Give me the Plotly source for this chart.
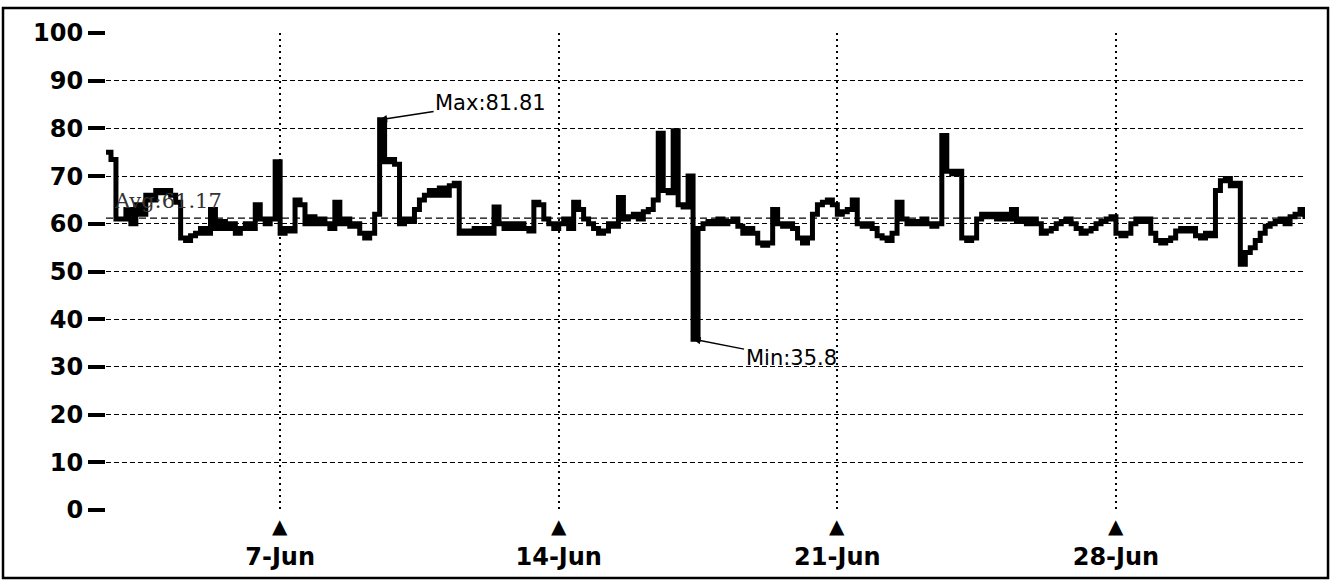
import pandas as pd
import plotly.graph_objects as go

# ---- data (3-hourly readings, starting 2 Jun 15:00) ----
start_time = "2024-06-02 15:00"
jun02 = [75, 73.5, 61]
jun03 = [61, 63, 60, 64, 62, 66, 65, 67]
jun04 = [66.5, 67, 66, 64.5, 57, 56.5, 57.5, 58]
jun05 = [59, 58, 63, 59, 60.5, 59, 60, 58]
jun06 = [59, 60, 59, 64, 61, 60, 61, 73]
jun07 = [58, 59, 58.5, 65, 64, 60, 61.5, 60]
jun08 = [61, 60, 59, 64.5, 60, 61, 59.5, 60]
jun09 = [58, 57, 58, 62, 81.81, 73, 73.5, 72.5]
jun10 = [60, 61, 60.5, 63, 65, 66, 67, 66]
jun11 = [67.5, 66, 68, 68.5, 58, 58.5, 58, 59]
jun12 = [58, 59, 58, 63.5, 60, 59, 60, 59]
jun13 = [60, 59, 58.5, 64.5, 64, 61, 60, 59]
jun14 = [60, 61, 59, 64.5, 63, 61, 60, 59]
jun15 = [58, 58.5, 60, 59.5, 65.5, 61, 61.5, 62]
jun16 = [61, 62.5, 63, 65, 79, 67, 66.5, 79.5]
jun17 = [64, 63.5, 70, 35.8, 59, 60, 60.5, 60]
jun18 = [61, 60, 60.5, 61, 59.5, 58, 59, 58]
jun19 = [56, 55.5, 56, 63, 60, 59.5, 60, 59]
jun20 = [57, 56, 57, 62, 64, 64.5, 65, 64]
jun21 = [62, 62.5, 63, 65, 60, 59.5, 60, 59]
jun22 = [57.5, 57, 56.5, 58, 64.5, 61, 60, 60.5]
jun23 = [60, 61, 60, 59.5, 60, 78.5, 71, 70.5]
jun24 = [71, 57, 56.5, 57, 61, 62, 61.5, 62]
jun25 = [61, 62, 61, 63, 60.5, 61, 60, 61]
jun26 = [60, 58, 58.5, 59, 60, 60.5, 61, 60]
jun27 = [59, 58, 58.5, 59, 60, 60.5, 61, 61.5]
jun28 = [58, 57.5, 58, 60, 61, 60.5, 61, 58]
jun29 = [56.5, 56, 56.5, 57, 58.5, 59, 58.5, 59]
jun30 = [57.5, 57, 58, 57.5, 67, 69, 69.5, 68]
jul01 = [68.5, 51.5, 54, 55, 56.5, 58, 59.5, 60]
jul02 = [60.5, 61, 60, 61.5, 62, 63, 61]

values = (jun02 + jun03 + jun04 + jun05 + jun06 + jun07 + jun08 + jun09 + jun10
          + jun11 + jun12 + jun13 + jun14 + jun15 + jun16 + jun17 + jun18 + jun19
          + jun20 + jun21 + jun22 + jun23 + jun24 + jun25 + jun26 + jun27 + jun28
          + jun29 + jun30 + jul01 + jul02)

avg_value = 61.17
max_value = 81.81
min_value = 35.8

tick_dates = ["2024-06-07", "2024-06-14", "2024-06-21", "2024-06-28"]
tick_text = ["7-Jun", "14-Jun", "21-Jun", "28-Jun"]
y_ticks = [0, 10, 20, 30, 40, 50, 60, 70, 80, 90, 100]

times = pd.date_range(start_time, periods=len(values), freq="3h")
max_time = times[values.index(max_value)]
min_time = times[values.index(min_value)]

fig = go.Figure()
fig.add_trace(go.Scatter(
    x=times, y=values, mode="lines", line=dict(color="black", width=5, shape="hv"),
    showlegend=False, hoverinfo="skip"))

# average line
fig.add_shape(type="line", xref="paper", x0=0, x1=1, yref="y", y0=avg_value, y1=avg_value,
              line=dict(color="black", width=1.2, dash="7px,4px"))

fig.add_annotation(x=times[0], y=avg_value, text="Avg:%.2f" % avg_value, showarrow=False,
                   xanchor="left", yanchor="bottom", xshift=6, yshift=3,
                   font=dict(family="DejaVu Serif", size=21, color="#333"))

fig.add_annotation(x=max_time, y=max_value, text="Max:%.2f" % max_value, showarrow=True,
                   ax=111, ay=-17, arrowhead=2, arrowsize=1, arrowwidth=1.5, arrowcolor="black",
                   font=dict(family="DejaVu Sans", size=21, color="black"))
fig.add_annotation(x=min_time, y=min_value, text="Min:%.1f" % min_value, showarrow=True,
                   ax=98, ay=19, arrowhead=2, arrowsize=1, arrowwidth=1.5, arrowcolor="black",
                   font=dict(family="DejaVu Sans", size=21, color="black"))

# triangle markers under the date ticks
for d in tick_dates:
    fig.add_annotation(x=d, y=0, text="\u25B2", showarrow=False, yanchor="top", yshift=-2,
                       font=dict(family="DejaVu Sans", size=20, color="black"))

# outer frame
fig.add_shape(type="rect", xref="paper", yref="paper", x0=-0.0859, x1=1.0192, y0=-0.1426, y1=1.0524,
              line=dict(color="black", width=2.5), fillcolor="rgba(0,0,0,0)", layer="below")

fig.update_layout(
    width=1331, height=584,
    margin=dict(l=106, r=26, t=33, b=74),
    paper_bgcolor="white", plot_bgcolor="white",
    font=dict(family="DejaVu Sans", color="black"),
)
fig.update_xaxes(
    range=[times[0], times[-1]], tickvals=tick_dates, ticktext=tick_text,
    ticks="", ticklabelstandoff=30,
    tickfont=dict(family="DejaVu Sans", size=24, color="black", weight="bold"),
    showgrid=True, gridcolor="black", griddash="2px,4px", gridwidth=2,
    zeroline=False, showline=False)
fig.update_yaxes(
    range=[0, 100], tickvals=y_ticks, ticks="outside", ticklen=17, tickwidth=4, tickcolor="black",
    tickfont=dict(family="DejaVu Sans", size=24, color="black", weight="bold"),
    showgrid=True, gridcolor="black", griddash="5px,3px", gridwidth=1,
    zeroline=False, showline=False)

fig.write_html("out.html", config={"displayModeBar": False},
               post_script="document.body.style.margin='0px';")
